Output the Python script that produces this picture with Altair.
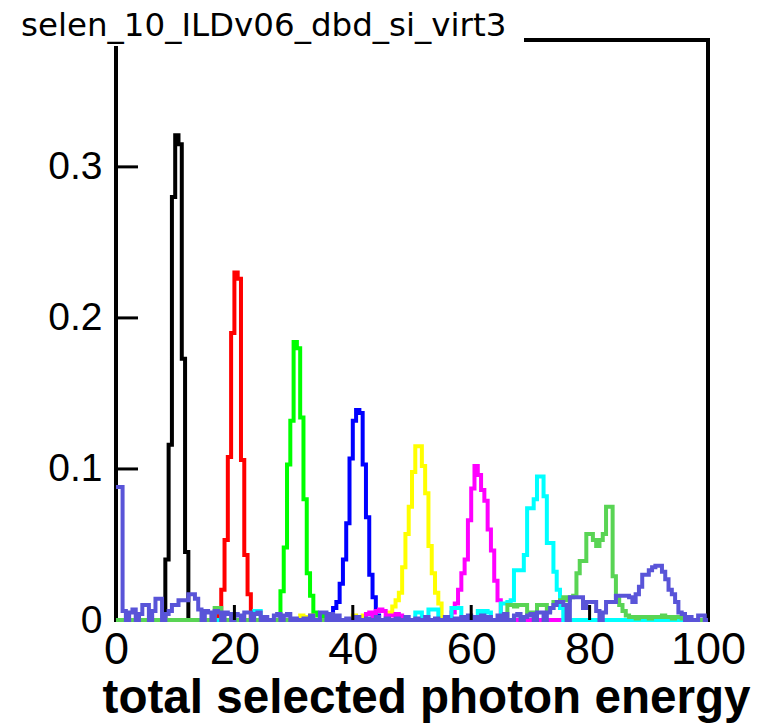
import altair as alt
import pandas as pd

# ---------------- data ----------------
N_BINS = 180
X_MAX = 100.0
BIN_W = X_MAX / N_BINS

series_names = ["10", "20", "30", "40", "50", "60", "70", "80", "90"]
series_colors = ["#000000", "#ff0000", "#00ff00", "#0000ff", "#ffff00",
                 "#ff00ff", "#00ffff", "#59d454", "#5954d8"]

black_peak = [0.04, 0.116, 0.28, 0.321, 0.315, 0.173, 0.045]
red_peak = [0.005, 0.02, 0.053, 0.108, 0.19, 0.23, 0.226, 0.106, 0.043, 0.017]
green_peak = [0.019, 0.048, 0.103, 0.132, 0.184, 0.18, 0.134, 0.08, 0.031, 0.016, 0.005]
green_tail = [0.003, 0.0, 0.003]
blue_peak = [0.008, 0.012, 0.024, 0.04, 0.064, 0.107, 0.132, 0.139, 0.137, 0.103, 0.068, 0.03, 0.015]
blue_tail = [0.003, 0.0]
yellow_noise_a = [0.003, 0.0, 0.002, 0.003, 0.0]
yellow_noise_b = [0.003, 0.0, 0.002, 0.003]
yellow_peak = [0.005, 0.009, 0.013, 0.018, 0.035, 0.057, 0.075, 0.098, 0.115, 0.115,
               0.102, 0.084, 0.049, 0.031, 0.018, 0.011]
magenta_noise = [0.004, 0.005, 0.0, 0.006, 0.007, 0.006, 0.0, 0.003, 0.003, 0.004, 0.003]
magenta_peak = [0.005, 0.011, 0.02, 0.031, 0.04, 0.066, 0.087, 0.102, 0.096, 0.086,
                0.079, 0.06, 0.046, 0.026, 0.013]
cyan_noise_a = [0.006, 0.006]
cyan_noise_b = [0.005, 0.005]
cyan_noise_c = [0.007, 0.007, 0.007]
cyan_noise_d = [0.008, 0.008, 0.008]
cyan_noise_e = [0.006, 0.005, 0.006, 0.005]
cyan_peak = [0.011, 0.011, 0.012, 0.013, 0.033, 0.033, 0.033, 0.043, 0.074, 0.074,
             0.08, 0.095, 0.095, 0.082, 0.051, 0.051, 0.032, 0.02, 0.008]
green2_noise_a = [0.008, 0.008]
green2_noise_b = [0.01, 0.01, 0.009, 0.01, 0.01, 0.01, 0.005, 0.005, 0.005, 0.01,
                  0.01, 0.01, 0.006, 0.008]
green2_peak = [0.012, 0.012, 0.013, 0.015, 0.013, 0.015, 0.016, 0.031, 0.039, 0.039,
               0.057, 0.057, 0.053, 0.049, 0.053, 0.057, 0.075, 0.075, 0.029, 0.015,
               0.01, 0.006]
green2_tail = [0.003, 0.002, 0.002, 0.001, 0.002, 0.002, 0.002, 0.001, 0.002, 0.002,
               0.002, 0.003, 0.002, 0.002, 0.001, 0.002, 0.002, 0.001]
slate_low = [0.088, 0.088, 0.006, 0.0, 0.005, 0.007, 0.0, 0.004, 0.01, 0.01,
             0.0, 0.006, 0.014, 0.014, 0.0, 0.004, 0.006, 0.01, 0.01, 0.013,
             0.013, 0.013, 0.017, 0.017, 0.014, 0.007, 0.0, 0.006, 0.005, 0.0,
             0.006, 0.005, 0.0, 0.005, 0.004, 0.0, 0.004, 0.003, 0.0, 0.005]
slate_mid = [0.005, 0.0, 0.004, 0.005,
             0.0, 0.002, 0.0, 0.0, 0.003,
             0.004, 0.0, 0.003, 0.004,
             0.0, 0.001, 0.0, 0.0, 0.001, 0.0, 0.003, 0.0, 0.0,
             0.005, 0.005, 0.0, 0.004, 0.0,
             0.003, 0.0, 0.0, 0.001, 0.0, 0.0, 0.002, 0.0, 0.0,
             0.001, 0.0, 0.0, 0.002, 0.0, 0.0, 0.001, 0.0, 0.0, 0.001,
             0.0, 0.0, 0.002, 0.0, 0.0,
             0.001, 0.0, 0.0, 0.002, 0.0, 0.0, 0.001, 0.0, 0.0, 0.002,
             0.0, 0.0, 0.001, 0.0, 0.002, 0.0]
slate_high = [0.003, 0.0, 0.002, 0.0, 0.003,
              0.0, 0.002, 0.0, 0.0, 0.003, 0.0, 0.004, 0.0, 0.0, 0.003,
              0.004, 0.0, 0.002, 0.003, 0.004, 0.0, 0.005,
              0.005, 0.0, 0.005, 0.008, 0.01, 0.012,
              0.012, 0.01, 0.0, 0.015, 0.015, 0.015, 0.015,
              0.008, 0.012, 0.012, 0.012, 0.006,
              0.0, 0.005, 0.012, 0.012, 0.012,
              0.016, 0.016, 0.016, 0.016, 0.015]
slate_peak = [0.012, 0.017, 0.022, 0.03, 0.03, 0.033, 0.035, 0.036, 0.036, 0.032,
              0.027, 0.02, 0.017, 0.012, 0.005, 0.004, 0.0, 0.002, 0.0, 0.0,
              0.003, 0.003, 0.0]

# (first bin index, values) per series
series_segments = [
    [(15, black_peak)],
    [(31, red_peak)],
    [(50, green_peak), (61, green_tail)],
    [(66, blue_peak), (79, blue_tail)],
    [(56, yellow_noise_a), (72, yellow_noise_b), (83, yellow_peak)],
    [(76, magenta_noise), (102, magenta_peak)],
    [(42, cyan_noise_a), (91, cyan_noise_b), (95, cyan_noise_c), (102, cyan_noise_d),
     (110, cyan_noise_e), (117, cyan_peak)],
    [(30, green2_noise_a), (119, green2_noise_b), (133, green2_peak), (155, green2_tail)],
    [(0, slate_low), (40, slate_mid), (107, slate_high), (157, slate_peak)],
]

x_tick_labels = [0, 20, 40, 60, 80, 100]
x_inner_ticks = [20, 40, 60, 80]
y_tick_labels = [0, 0.1, 0.2, 0.3]
y_inner_ticks = [0.1, 0.2, 0.3]
y_max = 0.384
title_text = "selen_10_ILDv06_dbd_si_virt3"
x_title = "total selected photon energy"

# ---------------- build table ----------------
rows = []
for name, segs in zip(series_names, series_segments):
    arr = [0.0] * N_BINS
    for start, vals in segs:
        for k, v in enumerate(vals):
            arr[start + k] = v
    for i, v in enumerate(arr):
        rows.append({"series": name, "x": i * BIN_W, "value": v})
    rows.append({"series": name, "x": X_MAX, "value": arr[-1]})
df = pd.DataFrame(rows)

FONT = "Liberation Sans"

x_enc = alt.X(
    "x:Q",
    scale=alt.Scale(domain=[0, X_MAX], nice=False, zero=False),
    axis=alt.Axis(
        values=x_tick_labels, format="d", ticks=False, tickSize=0, domain=False,
        grid=False, labelFont=FONT, labelFontSize=45, labelColor="black",
        labelPadding=7, labelFlush=False, labelOverlap=False, labelBound=False,
        title=x_title, titleFont=FONT, titleFontWeight="bold", titleFontSize=47.6,
        titleColor="black", titleX=634, titleY=92, titleAlign="right",
        titleBaseline="alphabetic",
    ),
)
y_enc = alt.Y(
    "value:Q",
    scale=alt.Scale(domain=[0, y_max], nice=False, zero=True),
    axis=alt.Axis(
        values=y_tick_labels, format=".1~f", ticks=False, tickSize=0, domain=False,
        grid=False, labelFont=FONT, labelFontSize=39, labelColor="black",
        labelPadding=14, labelFlush=False, labelOverlap=False, title=None,
    ),
)

layers = []
for name, col in zip(series_names, series_colors):
    layers.append(
        alt.Chart(df)
        .transform_filter(alt.datum.series == name)
        .mark_line(interpolate="step-after", color=col, strokeWidth=4)
        .encode(x=x_enc, y=y_enc)
    )

xt = pd.DataFrame({"x": x_inner_ticks})
layers.append(
    alt.Chart(xt).mark_rule(color="black", strokeWidth=3).encode(
        x=x_enc, y=alt.value(580), y2=alt.value(565)
    )
)
yt = pd.DataFrame({"value": y_inner_ticks})
layers.append(
    alt.Chart(yt).mark_rule(color="black", strokeWidth=3).encode(
        y=y_enc, x=alt.value(0), x2=alt.value(22)
    )
)

one = pd.DataFrame({"t": [title_text]})
layers.append(
    alt.Chart(one).mark_rect(color="white").encode(
        x=alt.value(-116), x2=alt.value(408), y=alt.value(-40), y2=alt.value(6)
    )
)
layers.append(
    alt.Chart(one).mark_text(
        align="left", baseline="alphabetic", font="DejaVu Sans", fontSize=32.5,
        color="black"
    ).encode(x=alt.value(-95), y=alt.value(-4), text="t:N")
)

chart = (
    alt.layer(*layers)
    .properties(
        width=592, height=580,
        padding={"left": 116, "top": 40, "right": 56, "bottom": 103},
        autosize=alt.AutoSizeParams(type="none"),
        background="white",
    )
    .configure_view(stroke="black", strokeWidth=4)
)

chart.save("out.html", embed_options={"renderer": "svg", "actions": False})
